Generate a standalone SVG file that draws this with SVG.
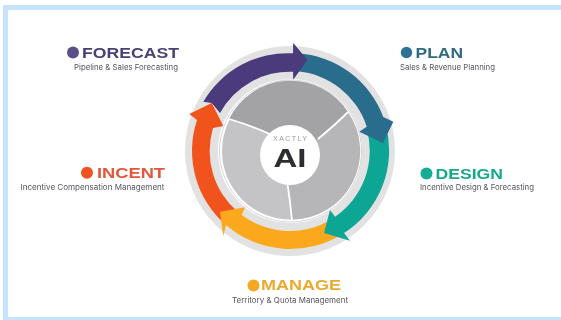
<svg xmlns="http://www.w3.org/2000/svg" width="561" height="320" viewBox="0 0 561 320">
<style>
.title{font-family:"Liberation Sans",Arial,sans-serif;font-weight:700;font-size:14.5px}
.sub{font-family:"Inter","Liberation Sans",sans-serif;font-size:8px;fill:#55555c}
.soft{filter:url(#soft)}
</style>
<defs>
<filter id="soft" filterUnits="userSpaceOnUse" x="0" y="0" width="561" height="320"><feGaussianBlur stdDeviation="0.45"/></filter>
</defs>
<rect width="561" height="320" fill="#fff"/>
<g id="frame" fill="#c5e5ff">
<rect x="3" y="5" width="558" height="5"/>
<rect x="3" y="5" width="5" height="315"/>
<rect x="3" y="317" width="558" height="3"/>
</g>
<g id="ring" class="soft">
<circle cx="290" cy="151" r="88.5" fill="none" stroke="#e2e2e2" stroke-width="33"/>
</g>
<g id="connectors" class="soft">
<path id="arrow-incent-forecast" fill="#4b3a7c" d="M203.3,101.7A98,98 0 0 1 293.3,53.3L293.3,43.3L307.3,60L293.3,79.3L293.3,71.7A80,80 0 0 0 220,113L211.7,103Z"/>
<path id="arrow-manage-incent" fill="#f0521e" d="M226,225A98,98 0 0 1 197,120L189.3,114L211.7,103L223.3,126L213,128A80,80 0 0 0 238,212Z"/>
<path id="arrow-design-manage" fill="#fba81c" d="M344,233A98,98 0 0 1 226,225L223.3,236L220,211.7L245,207.3L241.7,215A80,80 0 0 0 332,219Z"/>
<path id="arrow-plan-design" fill="#0ea594" d="M386,126A98,98 0 0 1 344,233L350,240.7L324,233L330,210L335,216.7A80,80 0 0 0 367,130Z"/>
<path id="arrow-forecast-plan" fill="#2a6c8c" d="M297,53.3A98,98 0 0 1 383.3,117L393.3,121.7L383,143L359.3,131.7L366.7,126.7A80,80 0 0 0 297,71.3Z"/>
<path id="arrow-head-forecast" fill="#4b3a7c" d="M293.3,53.3L293.3,43.3L307.3,60L293.3,79.3L293.3,71.7Z"/>
</g>
<g id="hub" class="soft">
<circle cx="290.5" cy="151" r="71" fill="#fff" stroke="#bbb" stroke-width="0.6"/>
<circle cx="290.5" cy="151" r="68.5" fill="#c4c4c6"/>
<path fill="#a3a3a5" d="M229,119A68.5,68.5 0 0 1 348,112Q335,125 318,139L290,154L272,135Q250,125 229,119Z"/>
<path fill="#b6b6b8" d="M348,112A68.5,68.5 0 0 1 292,219.5Q290,200 287,180L290,154L318,139Q335,125 348,112Z"/>
<g fill="none" stroke="#fff" stroke-width="1.8">
<path d="M229,119Q250,125 272,135"/>
<path d="M348,112Q335,125 318,139"/>
<path d="M292,220Q290,200 287,180"/>
</g>
<circle cx="290" cy="155" r="30" fill="#fff"/>
<text x="290" y="141" text-anchor="middle" font-family="Liberation Sans,sans-serif" font-size="7" fill="#9a9a9a" textLength="34">XACTLY</text>
<text x="290" y="167" text-anchor="middle" font-family="Liberation Sans,sans-serif" font-weight="700" font-size="26" fill="#2e2e30" textLength="33" lengthAdjust="spacingAndGlyphs">AI</text>
</g>
<g id="forecast" class="soft">
<circle cx="73" cy="52.5" r="6" fill="#5c5088"/>
<text class="title" x="82" y="58.2" fill="#4a4272" textLength="97" lengthAdjust="spacingAndGlyphs">FORECAST</text>
<text class="sub" x="74" y="70" textLength="104" lengthAdjust="spacingAndGlyphs">Pipeline &amp; Sales Forecasting</text>
</g>
<g id="plan" class="soft">
<circle cx="406.5" cy="52.5" r="5.7" fill="#2f6f96"/>
<text class="title" x="415.5" y="58.2" fill="#2f6a80" textLength="47.5" lengthAdjust="spacingAndGlyphs">PLAN</text>
<text class="sub" x="400" y="70" textLength="95" lengthAdjust="spacingAndGlyphs">Sales &amp; Revenue Planning</text>
</g>
<g id="design" class="soft">
<circle cx="426.5" cy="173.5" r="6" fill="#14ad92"/>
<text class="title" x="435.5" y="178.5" fill="#18a88f" textLength="67.5" lengthAdjust="spacingAndGlyphs">DESIGN</text>
<text class="sub" x="420" y="190" textLength="114" lengthAdjust="spacingAndGlyphs">Incentive Design &amp; Forecasting</text>
</g>
<g id="manage" class="soft">
<circle cx="253.5" cy="285.5" r="6" fill="#f4a823"/>
<text class="title" x="261" y="290.3" fill="#e8aa2e" textLength="80" lengthAdjust="spacingAndGlyphs">MANAGE</text>
<text class="sub" x="232" y="303" textLength="116" lengthAdjust="spacingAndGlyphs">Territory &amp; Quota Management</text>
</g>
<g id="incent" class="soft">
<circle cx="87" cy="172.7" r="6" fill="#ef5322"/>
<text class="title" x="97" y="178.3" fill="#e4573a" textLength="68" lengthAdjust="spacingAndGlyphs">INCENT</text>
<text class="sub" x="20.5" y="190" textLength="144" lengthAdjust="spacingAndGlyphs">Incentive Compensation Management</text>
</g>
</svg>
